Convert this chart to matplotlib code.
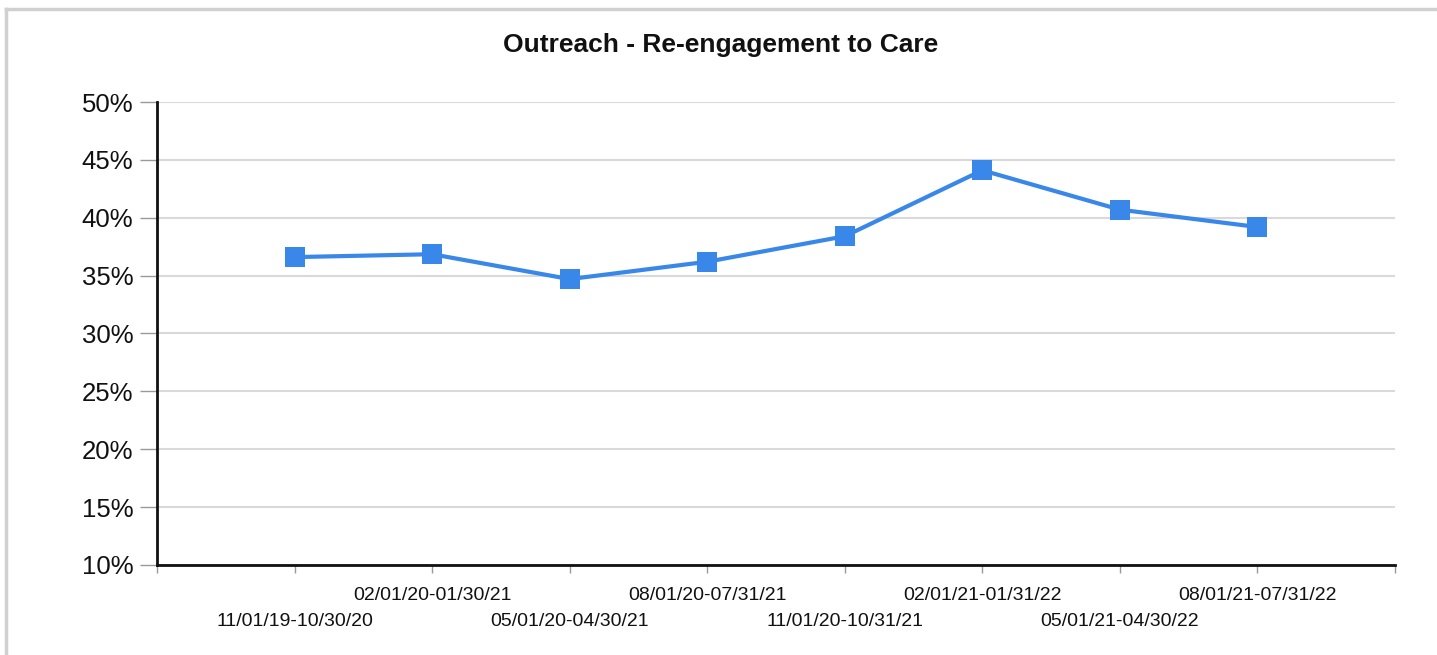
import matplotlib
matplotlib.use("Agg")
import matplotlib.pyplot as plt
from matplotlib.lines import Line2D

plt.rcParams['font.family'] = ['Liberation Sans', 'DejaVu Sans']

title = "Outreach - Re-engagement to Care"
categories = ["11/01/19-10/30/20", "02/01/20-01/30/21", "05/01/20-04/30/21",
              "08/01/20-07/31/21", "11/01/20-10/31/21", "02/01/21-01/31/22",
              "05/01/21-04/30/22", "08/01/21-07/31/22"]
values = [36.6, 36.85, 34.7, 36.2, 38.4, 44.1, 40.7, 39.2]
yticks = [10, 15, 20, 25, 30, 35, 40, 45, 50]
ytick_labels = ["10%", "15%", "20%", "25%", "30%", "35%", "40%", "45%", "50%"]

W, H = 1437, 655
fig = plt.figure(figsize=(W / 100, H / 100), dpi=100)
ax = fig.add_axes([157 / W, 1 - 565 / H, (1395 - 157) / W, (565 - 102) / H])

x = list(range(len(categories)))
ax.plot(x, values, color='#3A87EA', lw=3.0, marker='s', markersize=14,
        markeredgewidth=0, zorder=3, clip_on=False)

ax.set_xlim(-1, len(categories))
ax.set_ylim(10, 50)
ax.set_yticks(yticks)
ax.set_yticklabels(ytick_labels, fontsize=18.5, color='#111111')
ax.yaxis.grid(True, color='#d9d9d9', lw=1.5)
ax.set_axisbelow(True)
ax.tick_params(axis='y', length=12, width=1, color='#999999', pad=5)

ax.set_xticks(range(-1, len(categories) + 1))
ax.set_xticklabels([])
ax.tick_params(axis='x', length=6, width=1, color='#999999')
for i, lab in enumerate(categories):
    yoff = -57 if i % 2 == 0 else -30
    ax.annotate(lab, xy=(i, 10), xycoords='data', xytext=(0, yoff),
                textcoords='offset pixels', ha='center', va='center',
                fontsize=14, color='#111111', annotation_clip=False)

for s in ['top', 'right']:
    ax.spines[s].set_visible(False)
ax.spines['left'].set_linewidth(2)
ax.spines['bottom'].set_linewidth(2)
ax.spines['left'].set_color('#111111')
ax.spines['bottom'].set_color('#111111')

fig.text(721 / W, 1 - 45 / H, title, ha='center', va='center',
         fontsize=19, fontweight='bold', color='#111111')

# outer frame
fig.add_artist(Line2D([6 / W, 6 / W], [0, 1 - 9 / H], transform=fig.transFigure,
                      color='#d0d0d0', lw=2.5))
fig.add_artist(Line2D([6 / W, 1], [1 - 9 / H, 1 - 9 / H], transform=fig.transFigure,
                      color='#d0d0d0', lw=2.5))

fig.savefig("out.png", dpi=100)
